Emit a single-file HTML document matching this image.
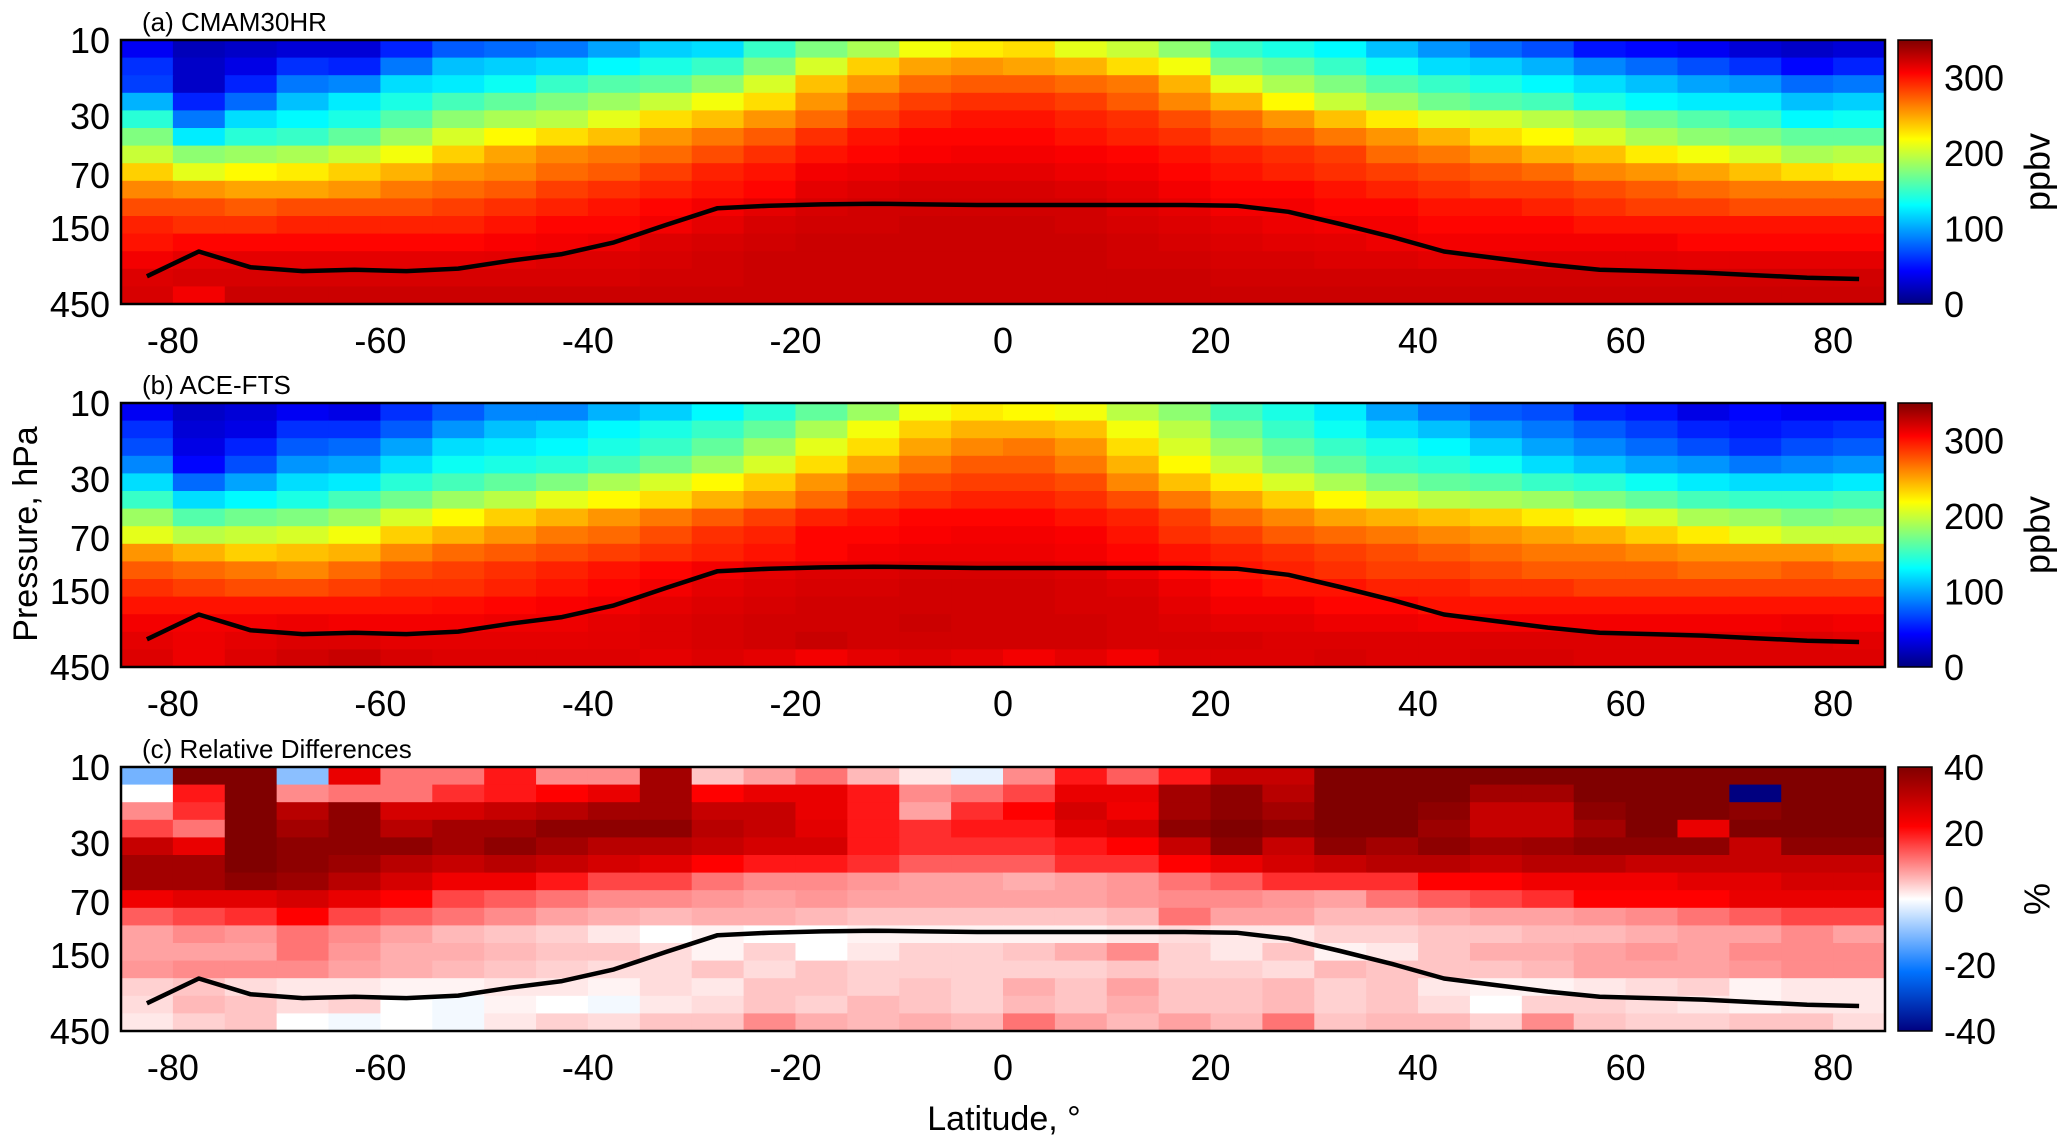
<!DOCTYPE html>
<html><head><meta charset="utf-8">
<style>
html,body{margin:0;padding:0;background:#fff;}
svg{display:block;font-family:"Liberation Sans",Arial,sans-serif;}
</style></head>
<body>
<svg id="fig" width="2067" height="1140" viewBox="0 0 2067 1140" xmlns="http://www.w3.org/2000/svg"></svg>
<script>
const latEdges = [-85, 85];
const nCols = 34;
const pTop = 10, pBot = 450;
const nRows = 15;
const xTicks = [-80,-60,-40,-20,0,20,40,60,80];
const yTicks = [10,30,70,150,450];
const cbTicksO3 = [0,100,200,300];
const cbTicksDiff = [-40,-20,0,20,40];
const lineLats = [-82.5,-77.5,-72.5,-67.5,-62.5,-57.5,-52.5,-47.5,-42.5,-37.5,-32.5,-27.5,-22.5,-17.5,-12.5,-7.5,-2.5,2.5,7.5,12.5,17.5,22.5,27.5,32.5,37.5,42.5,47.5,52.5,57.5,62.5,67.5,72.5,77.5,82.5];
const tropP = [302,211,265,280,275,280,270,241,219,185,144,113,109,107,106,107,108,108,108,108,108,109,119,142,171,211,232,255,275,280,286,297,308,314];
const cmamRows = [
[40,20,25,30,30,55,75,80,85,100,115,120,150,175,190,215,225,230,210,200,180,150,140,130,110,95,80,70,50,45,40,30,25,30],
[60,25,35,60,55,85,110,115,120,130,140,150,175,205,235,250,255,250,245,230,215,175,165,150,135,120,115,105,90,80,70,60,45,55],
[65,25,55,85,90,120,125,135,150,160,165,180,205,240,255,270,275,275,270,265,245,210,190,175,160,150,140,130,120,110,100,95,80,85],
[105,55,80,110,125,140,155,165,175,185,200,215,230,255,275,285,290,290,285,275,260,245,220,200,185,170,160,155,140,130,125,125,110,115],
[145,85,120,130,140,160,180,190,195,210,230,240,255,270,285,295,300,300,295,290,280,270,255,240,225,210,205,195,185,170,160,150,130,135],
[175,125,145,150,165,185,205,220,230,240,255,265,275,290,300,305,305,305,300,295,290,280,275,265,255,245,230,220,205,190,180,175,165,165],
[200,180,185,190,200,215,235,250,260,265,270,280,290,300,305,308,310,310,308,305,300,295,290,285,270,265,255,245,240,225,215,205,190,195],
[235,210,220,225,235,245,255,260,270,275,285,295,300,310,312,315,315,315,312,310,305,300,295,290,285,280,275,270,260,255,250,240,230,225],
[260,255,250,250,255,265,270,275,285,290,295,300,305,315,318,320,320,320,318,315,310,305,305,300,295,290,285,285,280,275,270,265,265,265],
[280,280,275,280,280,280,285,290,295,300,305,310,315,320,322,322,322,322,322,318,315,310,310,305,305,300,300,295,290,285,285,280,280,280],
[295,290,290,295,295,295,295,300,305,305,310,315,320,322,322,324,324,324,322,320,318,315,312,310,310,305,305,305,300,300,300,300,300,300],
[300,305,305,305,305,305,305,308,310,312,318,320,322,324,324,324,324,324,324,322,320,318,316,315,312,310,310,310,310,310,305,305,305,305],
[310,315,315,315,315,315,315,316,318,318,320,322,324,324,324,324,324,324,324,322,322,320,320,318,318,316,316,316,316,316,315,315,315,315],
[318,320,320,320,320,320,320,320,320,320,322,322,324,324,324,324,324,324,324,324,324,322,322,322,322,322,322,322,322,322,322,322,322,322],
[320,310,324,324,324,324,324,324,324,324,324,324,324,324,324,324,324,324,324,324,324,324,324,324,324,324,324,324,324,324,324,324,324,324]];
const aceRows = [
[40,25,30,40,35,60,75,90,90,105,115,130,145,165,185,215,225,220,215,195,180,155,140,125,100,85,75,70,55,50,35,45,40,40],
[60,30,35,60,60,75,95,110,120,130,140,150,165,190,215,235,245,245,240,215,195,170,150,135,120,110,95,85,75,65,55,50,55,60],
[70,35,55,75,80,100,120,125,130,140,150,165,185,210,230,250,260,265,255,230,205,185,165,150,140,130,115,100,90,80,70,60,70,75],
[90,45,70,95,100,120,135,140,145,155,170,185,205,230,250,265,275,275,265,245,220,200,180,165,150,145,135,120,110,100,95,85,90,95],
[120,80,100,120,125,145,155,165,175,190,205,220,235,255,270,280,285,285,280,260,240,225,205,190,175,165,160,150,145,135,125,120,120,125],
[150,120,130,140,155,170,185,195,210,220,230,245,255,270,285,290,295,295,290,280,265,250,235,220,205,195,190,185,175,165,155,150,150,155],
[185,160,170,175,185,205,220,235,245,255,265,275,285,295,300,305,305,305,300,295,285,270,260,250,245,240,235,225,215,205,190,185,175,180],
[210,195,200,205,215,235,245,255,265,270,280,290,295,305,305,308,310,310,308,300,290,285,275,270,265,260,255,250,245,235,225,210,200,200],
[255,245,235,240,245,260,270,275,280,285,290,295,300,305,310,312,312,312,310,305,300,295,290,285,280,275,270,265,265,260,255,255,255,250],
[275,270,265,260,270,280,285,290,295,300,305,310,315,318,318,320,320,320,318,312,305,300,295,290,285,285,280,275,275,275,270,270,275,270],
[290,285,280,280,285,290,290,295,300,305,310,315,318,320,320,322,322,322,320,318,312,305,300,300,295,295,290,290,285,285,285,285,285,285],
[300,300,300,300,300,300,302,305,308,310,315,318,320,322,322,322,322,322,320,320,315,310,310,305,305,300,300,300,300,300,300,300,300,300],
[310,310,310,312,310,310,310,312,312,315,318,320,322,322,322,324,322,322,322,320,318,315,315,312,312,310,310,310,310,310,310,310,312,310],
[315,312,315,318,318,315,315,315,315,316,318,320,322,325,322,322,322,322,322,320,320,320,318,318,318,318,318,318,318,318,318,318,318,316],
[318,312,318,322,325,320,318,318,318,318,315,318,315,310,315,318,315,310,315,310,318,318,318,320,318,318,320,320,318,318,318,318,318,318]];
const diffRows = [
[-12,40,40,-10,25,12,12,20,10,10,35,5,8,12,6,2,-2,10,20,14,20,30,30,40,40,40,40,40,40,40,40,40,40,40],
[0,20,40,10,12,12,18,20,22,25,35,22,25,25,20,10,12,16,25,25,35,38,32,40,40,40,35,35,40,40,40,-40,40,40],
[10,18,40,32,38,28,28,30,32,35,35,30,30,25,20,8,18,22,28,24,35,38,35,40,40,38,30,30,38,40,40,38,40,40],
[16,12,40,35,38,32,35,35,38,38,38,32,30,26,20,18,20,20,26,28,38,40,38,40,40,36,30,30,35,40,25,40,40,40],
[30,25,40,38,38,38,35,38,35,32,32,30,28,28,20,18,18,18,20,22,30,38,30,38,35,38,35,36,38,38,38,30,38,38],
[35,35,40,38,36,32,30,32,30,28,26,22,20,20,18,14,14,14,18,18,22,25,28,30,32,32,30,32,32,30,30,30,30,30],
[35,35,38,36,32,28,24,24,20,16,16,12,10,10,9,8,8,7,8,9,12,14,18,18,18,22,22,24,24,24,26,26,28,28],
[24,26,26,28,25,22,16,14,12,10,10,9,8,9,8,8,8,8,8,9,10,10,9,8,12,14,16,18,22,22,22,25,25,25],
[14,16,18,22,16,14,12,10,8,7,6,7,7,6,5,5,5,5,5,6,12,8,8,6,6,7,8,8,9,10,12,14,16,16],
[8,10,9,12,10,8,6,5,4,2,0,1,0,0,1,1,1,1,1,2,3,2,2,4,4,5,5,6,6,7,8,8,10,8],
[8,8,8,12,9,7,7,6,5,5,3,1,4,0,2,4,4,5,7,10,4,2,5,1,2,5,7,7,8,9,8,10,10,10],
[9,10,10,10,8,7,6,5,4,3,3,5,3,5,4,4,4,4,4,5,4,4,3,6,5,5,5,6,8,8,8,9,10,10],
[4,5,3,2,2,1,1,2,2,1,3,2,5,5,4,5,4,7,5,8,5,5,6,4,5,2,1,1,2,3,4,1,2,2],
[3,6,5,3,4,0,-1,1,0,-1,2,3,5,4,6,5,4,6,5,7,5,5,6,4,5,3,0,4,4,3,2,1,2,2],
[2,4,5,0,-1,0,-1,2,4,3,5,5,10,7,6,7,6,12,8,6,8,6,12,5,6,6,4,10,5,4,4,5,5,3]];

const NS = "http://www.w3.org/2000/svg";
const svg = document.getElementById('fig');
const L = 121, R = 1885;
const panels = [
  {top:40, bot:304, title:"(a) CMAM30HR", rows:cmamRows, kind:"o3", name:"panel-cmam30hr"},
  {top:403, bot:667, title:"(b) ACE-FTS", rows:aceRows, kind:"o3", name:"panel-ace-fts"},
  {top:767, bot:1031, title:"(c) Relative Differences", rows:diffRows, kind:"diff", name:"panel-relative-differences"}];

function el(tag, attrs, parent){const e=document.createElementNS(NS,tag);for(const k in attrs)e.setAttribute(k,attrs[k]);(parent||svg).appendChild(e);return e;}
function jet(t){t=Math.max(0,Math.min(1,t));
  const f=(x)=>Math.max(0,Math.min(1,x));
  const r=f(Math.min(4*t-1.5,-4*t+4.5)),g=f(Math.min(4*t-0.5,-4*t+3.5)),b=f(Math.min(4*t+0.5,-4*t+2.5));
  return `rgb(${Math.round(r*255)},${Math.round(g*255)},${Math.round(b*255)})`;}
function div(v){let t=Math.max(-1,Math.min(1,v/40));const a=Math.abs(t);let r,g,b;
  if(t>=0){
    if(a<0.55){const s=a/0.55;r=1;g=1-s;b=1-s;}else{const s=(a-0.55)/0.45;r=1-0.5*s;g=0;b=0;}
  } else {
    if(a<0.55){const s=a/0.55;r=1-s;g=1-0.55*s;b=1;}else{const s=(a-0.55)/0.45;r=0;g=0.45*(1-s);b=1-0.5*s;}
  }
  return `rgb(${Math.round(r*255)},${Math.round(g*255)},${Math.round(b*255)})`;}
const xScale = lat => L + (lat - latEdges[0])/(latEdges[1]-latEdges[0])*(R-L);
function yScaleFor(p){return v => p.top + (Math.log10(v)-Math.log10(pTop))/(Math.log10(pBot)-Math.log10(pTop))*(p.bot-p.top);}

panels.forEach((p,pi)=>{
  const g = el('g',{});
  
  
  const ys = yScaleFor(p);
  const lt = Math.log10(pTop), lb = Math.log10(pBot);
  const cw = (latEdges[1]-latEdges[0])/nCols;
  p.rows.forEach((row,ri)=>{
    const pa = Math.pow(10, lt + (lb-lt)*ri/nRows), pb = Math.pow(10, lt + (lb-lt)*(ri+1)/nRows);
    const y0 = ys(pa), y1 = ys(pb);
    row.forEach((v,ci)=>{
      const x0 = xScale(latEdges[0]+ci*cw), x1 = xScale(latEdges[0]+(ci+1)*cw);
      const c = el('rect',{x:x0,y:y0,width:x1-x0+0.6,height:y1-y0+0.6,fill:p.kind==="o3"?jet(v/350):div(v)},g);
      
      
    });
  });
  const pts = lineLats.map((la,i)=>xScale(la).toFixed(1)+','+ys(tropP[i]).toFixed(1)).join(' ');
  const ln = el('polyline',{points:pts,fill:'none',stroke:'#000','stroke-width':4.5,'stroke-linejoin':'round'},g);
  
  
  const fr = el('rect',{x:L,y:p.top,width:R-L,height:p.bot-p.top,fill:'none',stroke:'#000','stroke-width':2.5},g);
  
  
  const t = el('text',{x:142,y:p.top-9,'font-size':26,fill:'#000'},g); t.textContent=p.title;
  
  
  yTicks.forEach(v=>{
    const tx = el('text',{x:110,y:ys(v)+13,'font-size':36,'text-anchor':'end',fill:'#000'},g); tx.textContent=v;
    
    
  });
  xTicks.forEach(v=>{
    const tx = el('text',{x:xScale(v),y:p.bot+49,'font-size':36,'text-anchor':'middle',fill:'#000'},g); tx.textContent=v;
    
    
  });
  const cx0=1898, cx1=1932;
  const gid='cg'+pi;
  const defs=el('defs',{},g);
  const lg=el('linearGradient',{id:gid,x1:0,y1:1,x2:0,y2:0},defs);
  for(let i=0;i<=40;i++){const t=i/40;el('stop',{offset:t,'stop-color':p.kind==="o3"?jet(t):div(-40+80*t)},lg);}
  const cb = el('rect',{x:cx0,y:p.top,width:cx1-cx0,height:p.bot-p.top,fill:`url(#${gid})`,stroke:'#000','stroke-width':1.5},g);
  
  
  const ticks = p.kind==="o3"?cbTicksO3:cbTicksDiff;
  const vmin = p.kind==="o3"?0:-40, vmax = p.kind==="o3"?350:40;
  ticks.forEach(v=>{
    const y = p.bot - (v-vmin)/(vmax-vmin)*(p.bot-p.top);
    const tx = el('text',{x:1944,y:y+13,'font-size':36,fill:'#000'},g); tx.textContent=v;
    
    
  });
  const cyl=(p.top+p.bot)/2;
  const ul = el('text',{x:2040,y:cyl,'font-size':36,'text-anchor':'middle',transform:`rotate(-90 2040 ${cyl})`,'dominant-baseline':'middle',fill:'#000'},g);
  ul.textContent = p.kind==="o3"?"ppbv":"%";
  
  
});
const yl = el('text',{x:28,y:534,'font-size':34,'text-anchor':'middle',transform:'rotate(-90 28 534)','dominant-baseline':'middle',fill:'#000'});
yl.textContent="Pressure, hPa";


const xl = el('text',{x:1004,y:1130,'font-size':34,'text-anchor':'middle',fill:'#000'});
xl.textContent="Latitude, °";


</script>
</body></html>
